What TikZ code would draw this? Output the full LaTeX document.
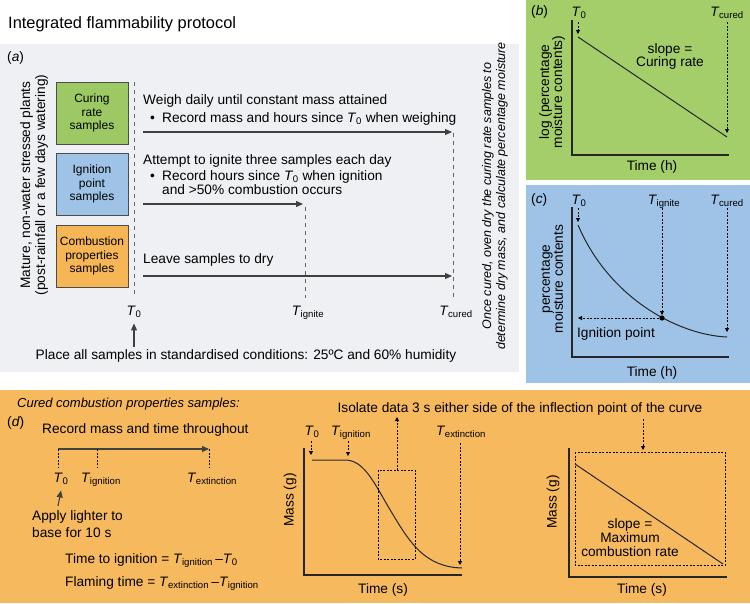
\documentclass[tikz,border=0pt]{standalone}
\usepackage{fontspec}
\setmainfont{Liberation Sans}
\usetikzlibrary{arrows.meta}

\definecolor{panelgray}{RGB}{238,240,243}
\definecolor{panelgreen}{RGB}{164,206,106}
\definecolor{panelblue}{RGB}{158,195,230}
\definecolor{panelorange}{RGB}{247,185,94}
\definecolor{boxgreen}{RGB}{156,201,100}
\definecolor{boxblue}{RGB}{158,195,230}
\definecolor{boxorange}{RGB}{247,182,86}

\newcommand{\Tsub}[1]{\textit{T}\kern-0.3pt\textsubscript{#1}}

\begin{document}
\begin{tikzpicture}[x=1pt, y=-1pt,
    txt/.style={inner sep=0pt, font=\fontsize{13.7}{15}\selectfont},
    smalltxt/.style={inner sep=0pt, font=\fontsize{12}{13.7}\selectfont},
    sample/.style={draw=black!70, line width=1pt, minimum width=72pt,
        minimum height=62pt, align=center, smalltxt},
    tline/.style={draw=black!60, line width=0.9pt, dash pattern=on 4pt off 4pt},
    tarrow/.style={draw=black!75, line width=1.1pt, -{Triangle[length=7pt,width=6pt]}},
    dotarrow/.style={line width=0.8pt, dash pattern=on 2pt off 1.5pt,
        -{Triangle[length=4pt,width=4pt]}},
    dotline/.style={line width=0.8pt, dash pattern=on 2pt off 1.5pt},
    axis/.style={line width=1.1pt, black!85},
    curve/.style={line width=1pt, black!85}]
    \useasboundingbox (0,0) rectangle (750,603);

    % panels
    \fill[panelgray] (0,44) rectangle (519,372);
    \fill[panelgreen] (526,0) rectangle (750,180);
    \fill[panelblue] (526,185) rectangle (750,383);
    \fill[panelorange] (0,390) rectangle (750,603);

    \node[txt, anchor=base west, font=\fontsize{16.4}{18}\selectfont] (title)
        at (8,28) {Integrated flammability protocol};

    % (a) timeline
    \node[txt, anchor=base west] (la) at (7,61) {(\textit{a})};
    \node[txt, rotate=90, align=center] (plants) at (34,185)
        {Mature, non-water stressed plants\\(post-rainfall or a few days watering)};
    \node[sample, fill=boxgreen] (curing) at (92,113) {Curing\\rate\\samples};
    \node[sample, fill=boxblue] (ignition) at (92,184) {Ignition\\point\\samples};
    \node[sample, fill=boxorange] (combust) at (92,256) {Combustion\\properties\\samples};

    \node[txt, anchor=base] (t0) at (134,315) {\Tsub{0}};
    \node[txt, anchor=base] (tign) at (308,315) {\Tsub{ignite}};
    \node[txt, anchor=base] (tcur) at (456,315) {\Tsub{cured}};
    \coordinate (t0top) at (134,82);
    \coordinate (igntop) at (305,207);
    \coordinate (curtop) at (453,133);
    \draw[tline] (t0top) -- (134,298);
    \draw[tline] (igntop) -- (305,298);
    \draw[tline] (curtop) -- (453,298);

    \node[txt, anchor=base west] (weigh) at (143,104) {Weigh daily until constant mass attained};
    \node[txt, anchor=base west] (weighpt) at (150,122)
        {\makebox[12pt][l]{\textbullet}Record mass and hours since \Tsub{0} when weighing};
    \coordinate (row1a) at (143,132);
    \coordinate (row1b) at (452,132);
    \draw[tarrow] (row1a) -- (row1b);

    \node[txt, anchor=base west] (attempt) at (143,164) {Attempt to ignite three samples each day};
    \node[txt, anchor=base west, align=left, font=\fontsize{13.7}{14}\selectfont] (attemptpt) at (150,194)
        {\makebox[12pt][l]{\textbullet}Record hours since \Tsub{0} when ignition\\
         \hspace*{12pt}and >50\% combustion occurs};
    \coordinate (row2a) at (143,204);
    \coordinate (row2b) at (303,204);
    \draw[tarrow] (row2a) -- (row2b);

    \node[txt, anchor=base west] (leave) at (143,263) {Leave samples to dry};
    \coordinate (row3a) at (143,276);
    \coordinate (row3b) at (452,276);
    \draw[tarrow] (row3a) -- (row3b);

    \node[txt, anchor=base] (place) at (246,359)
        {Place all samples in standardised conditions: 25ºC and 60\% humidity};
    \coordinate (placetop) at (134,347);
    \draw[tarrow] (placetop) -- ([yshift=-6pt]t0.south);
    \node[txt, rotate=90, align=center, font=\fontsize{12.5}{14}\selectfont\itshape] (oven) at (495,196)
        {Once cured, oven dry the curing rate samples to\\determine dry mass, and calculate percentage moisture};

    % (b) curing rate
    \node[txt, anchor=base west] (lb) at (531,15) {(\textit{b})};
    \node[txt, anchor=base] (bt0) at (579,16) {\Tsub{0}};
    \node[txt, anchor=base] (btcur) at (727,16) {\Tsub{cured}};
    \draw[axis] (572,20) -- (572,155) -- (729,155);
    \draw[curve] (578,37) -- (727,137);
    \draw[dotarrow] (578,22) -- (578,34);
    \draw[dotarrow] (727,22) -- (727,133);
    \node[txt, align=center, font=\fontsize{13.7}{13}\selectfont] (bslope) at (670,56) {slope =\\Curing rate};
    \node[txt, rotate=90, align=center, font=\fontsize{13.7}{13}\selectfont] (bylab) at (552,92)
        {log (percentage\\moisture contents)};
    \node[txt, anchor=base] (bxlab) at (652,170) {Time (h)};

    % (c) moisture curve
    \node[txt, anchor=base west] (lc) at (531,203) {(\textit{c})};
    \node[txt, anchor=base] (ct0) at (579,204) {\Tsub{0}};
    \node[txt, anchor=base] (ctign) at (664,204) {\Tsub{ignite}};
    \node[txt, anchor=base] (ctcur) at (727,204) {\Tsub{cured}};
    \draw[axis] (572,207) -- (572,357) -- (729,357);
    \draw[curve] (578,225) .. controls (610,300) and (680,335) .. (727,337);
    \draw[dotarrow] (578,208) -- (578,222);
    \draw[dotarrow] (662,208) -- (662,315);
    \draw[dotarrow] (727,208) -- (727,332);
    \fill (662,318) circle (2.6pt) coordinate (ignpt);
    \coordinate (ignaxis) at (578,318);
    \draw[dotarrow] (ignpt) -- (ignaxis);
    \node[txt, anchor=base] (cign) at (616,337) {Ignition point};
    \node[txt, rotate=90, align=center, font=\fontsize{13.7}{13}\selectfont] (cylab) at (552,279)
        {percentage\\moisture contents};
    \node[txt, anchor=base] (cxlab) at (652,376) {Time (h)};

    % (d) combustion properties
    \node[txt, anchor=base west, font=\fontsize{13}{15}\selectfont\itshape] (dtitle) at (17,407)
        {Cured combustion properties samples:};
    \node[txt, anchor=base west] (ld) at (7,426) {(\textit{d})};
    \node[txt, anchor=base west] (record) at (42,433) {Record mass and time throughout};
    \coordinate (dstart) at (58,449);
    \coordinate (dend) at (209,449);
    \draw[tarrow] (dstart) -- (dend);
    \node[txt, anchor=base] (dt0) at (61,482) {\Tsub{0}};
    \node[txt, anchor=base] (dtig) at (101,482) {\Tsub{ignition}};
    \node[txt, anchor=base] (dtext) at (212,482) {\Tsub{extinction}};
    \draw[dotline] (dstart) -- (58,468);
    \draw[dotline] (97,449) -- (97,468);
    \draw[dotline] (dend) -- (209,468);
    \node[txt, anchor=base west, align=left, font=\fontsize{13.7}{17}\selectfont] (lighter) at (32,537)
        {Apply lighter to\\base for 10 s};
    \coordinate (lighttop) at (58,506);
    \draw[tarrow] (lighttop) -- ([yshift=-6pt]dt0.south);
    \node[txt, anchor=base west] (timeign) at (65,563)
        {Time to ignition = \Tsub{ignition}\,–\Tsub{0}};
    \node[txt, anchor=base west] (flaming) at (65,586)
        {Flaming time = \Tsub{extinction}\,–\Tsub{ignition}};

    % mass loss curve
    \node[txt, anchor=base] (isolate) at (520,412)
        {Isolate data 3 s either side of the inflection point of the curve};
    \draw[axis] (304,448) -- (304,575) -- (462,575);
    \node[txt, anchor=base] (mt0) at (312,435) {\Tsub{0}};
    \node[txt, anchor=base] (mtig) at (351,435) {\Tsub{ignition}};
    \node[txt, anchor=base] (mtext) at (461,435) {\Tsub{extinction}};
    \draw[dotarrow] (311,441) -- (311,455);
    \draw[dotarrow] (348,441) -- (348,456);
    \draw[dotarrow] (460,443) -- (460,565);
    \draw[curve] (312,460) -- (345,460) .. controls (365,460) and (375,485) .. (392,513)
        .. controls (410,543) and (425,567) .. (462,568);
    \draw[dotline] (378,470) rectangle (415,559);
    \draw[dotarrow] (397,470) -- (397,417);
    \node[txt, rotate=90] (mylab) at (290,500) {Mass (g)};
    \node[txt, anchor=base] (mxlab) at (383,593) {Time (s)};

    % maximum rate
    \draw[axis] (569,448) -- (569,577) -- (727,577);
    \draw[dotline] (575,452) rectangle (725,565);
    \draw[dotarrow] (643,419) -- (643,450);
    \draw[curve] (575,464) -- (723,564);
    \node[txt, align=center, font=\fontsize{13.7}{14}\selectfont] (rslope) at (630,538)
        {slope =\\Maximum\\combustion rate};
    \node[txt, rotate=90] (rylab) at (553,502) {Mass (g)};
    \node[txt, anchor=base] (rxlab) at (642,593) {Time (s)};
\end{tikzpicture}
\end{document}
